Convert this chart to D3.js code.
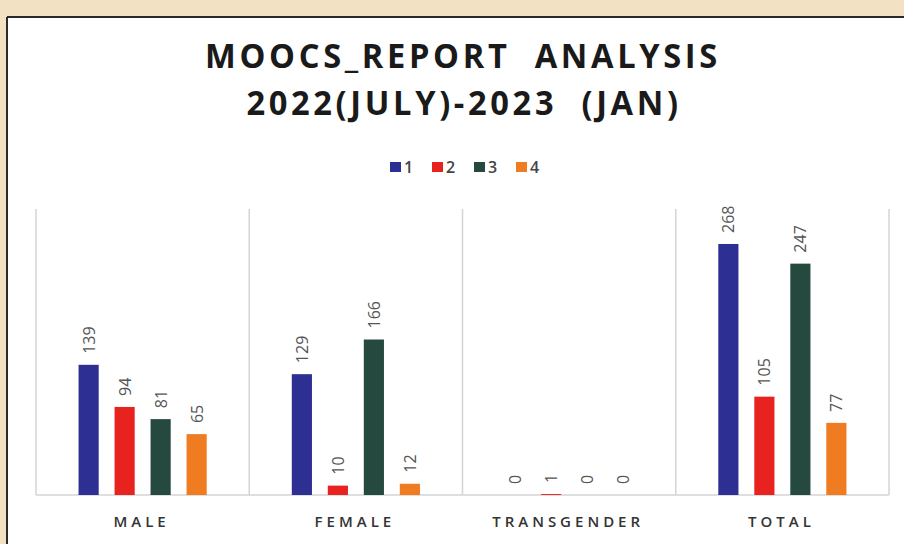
<!DOCTYPE html>
<html>
<head>
<meta charset="utf-8">
<script src="https://cdn.jsdelivr.net/npm/d3@7"></script>
<style>
  body { margin: 0; background: #f2e1c3; }
  svg { display: block; }
</style>
</head>
<body>
<div id="vis"></div>
<script>
// chart values
var categories = ["MALE", "FEMALE", "TRANSGENDER", "TOTAL"];
var seriesNames = ["1", "2", "3", "4"];
var series1 = [139, 129, 0, 268];
var series2 = [94, 10, 1, 105];
var series3 = [81, 166, 0, 247];
var series4 = [65, 12, 0, 77];
var colors = ["#2d2f93", "#e8221f", "#25493f", "#f07c22"];
var titleLines = ["MOOCS_REPORT  ANALYSIS", "2022(JULY)-2023  (JAN)"];

var allSeries = [series1, series2, series3, series4];

var width = 904, height = 544;
var svg = d3.select("#vis").append("svg").attr("width", width).attr("height", height);

// beige scan background + white panel
svg.append("rect").attr("width", width).attr("height", height).attr("fill", "#f2e1c3");
svg.append("rect").attr("x", 7).attr("y", 17).attr("width", width - 7).attr("height", height - 17)
    .attr("fill", "#ffffff");
svg.append("line").attr("x1", 7).attr("x2", 7).attr("y1", 17).attr("y2", height)
    .attr("stroke", "#2a2a2a").attr("stroke-width", 2);
svg.append("line").attr("x1", 7).attr("x2", width).attr("y1", 17).attr("y2", 17)
    .attr("stroke", "#2a2a2a").attr("stroke-width", 2);

// title, glyphs squeezed a bit to look like the original narrow font
var sx = 0.96;
function titleLine(txt, cx, cy) {
    svg.append("g").attr("transform", "translate(" + cx + "," + cy + ") scale(" + sx + ",1)")
        .append("text").attr("x", 0).attr("y", 0).attr("text-anchor", "middle")
        .style("white-space", "pre")
        .attr("font-family", "Open Sans").attr("font-weight", 700).attr("font-size", 34)
        .attr("letter-spacing", 3.8).attr("fill", "#1a1a1a")
        .text(txt);
}
titleLine(titleLines[0], 463, 68);
titleLine(titleLines[1], 464, 115);

// legend
var legend = svg.append("g").attr("transform", "translate(390,167)");
var legItem = legend.selectAll("g").data(seriesNames).enter().append("g")
    .attr("transform", function (d, i) { return "translate(" + (i * 42) + ",0)"; });
legItem.append("rect").attr("x", 0).attr("y", -5).attr("width", 11).attr("height", 10)
    .attr("fill", function (d, i) { return colors[i]; });
legItem.append("text").attr("x", 14).attr("y", 6)
    .attr("font-family", "Open Sans").attr("font-size", 16).attr("font-weight", 600).attr("fill", "#444")
    .text(function (d) { return d; });

// scales
var x0 = d3.scaleBand().domain(categories).range([36, 889]).padding(0);
var x1 = d3.scaleBand().domain(seriesNames).range([-72, 72]).paddingInner(0.44).paddingOuter(0.22);
var y = d3.scaleLinear().domain([0, 300]).range([495, 214]);

var plotTop = 209;

// category dividers
var bounds = categories.map(function (c) { return x0(c); }).concat([x0.range()[1]]);
svg.append("g").selectAll("line").data(bounds).enter().append("line")
    .attr("x1", function (d) { return d; }).attr("x2", function (d) { return d; })
    .attr("y1", plotTop).attr("y2", y(0))
    .attr("stroke", "#d4d4d4").attr("stroke-width", 1.5);

// baseline
svg.append("line").attr("x1", 36).attr("x2", 889).attr("y1", y(0)).attr("y2", y(0))
    .attr("stroke", "#d4d4d4").attr("stroke-width", 1.5);

// bars
var groups = svg.append("g").selectAll("g").data(categories).enter().append("g")
    .attr("transform", function (c) { return "translate(" + (x0(c) + x0.bandwidth() / 2) + ",0)"; });

groups.each(function (c, ci) {
    var g = d3.select(this);
    var vals = allSeries.map(function (s, si) { return { name: seriesNames[si], value: s[ci], color: colors[si] }; });
    g.selectAll("rect").data(vals).enter().append("rect")
        .attr("x", function (d) { return x1(d.name); })
        .attr("width", x1.bandwidth())
        .attr("y", function (d) { return y(d.value); })
        .attr("height", function (d) { return y(0) - y(d.value); })
        .attr("fill", function (d) { return d.color; });
    g.selectAll("text").data(vals).enter().append("text")
        .attr("transform", function (d) {
            return "translate(" + (x1(d.name) + x1.bandwidth() / 2 + 6) + "," + (y(d.value) - 11) + ") rotate(-90)";
        })
        .attr("font-family", "Open Sans").attr("font-size", 16).attr("fill", "#555")
        .text(function (d) { return d.value; });
});

// category labels
svg.append("g").selectAll("text").data(categories).enter().append("text")
    .attr("x", function (c) { return x0(c) + x0.bandwidth() / 2 - 1; })
    .attr("y", 527)
    .attr("text-anchor", "middle")
    .attr("font-family", "Open Sans").attr("font-size", 15).attr("font-weight", 600)
    .attr("letter-spacing", 4).attr("fill", "#333")
    .text(function (c) { return c; });
</script>
</body>
</html>
